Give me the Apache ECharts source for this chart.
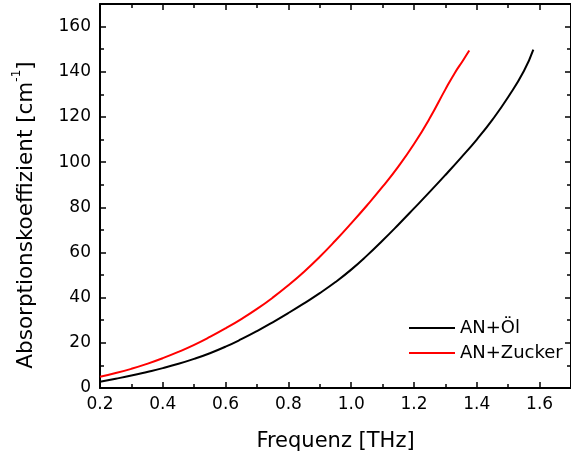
<!DOCTYPE html>
<html>
<head>
<meta charset="utf-8">
<script src="https://cdn.jsdelivr.net/npm/echarts@6/dist/echarts.min.js"></script>
<style>html,body{margin:0;padding:0;background:#fff;}#c{width:571px;height:457px;}</style>
</head>
<body>
<div id="c"></div>
<script>
var seriesNames = ['AN+Öl', 'AN+Zucker'];
var oilX = [0.2,0.25,0.3,0.35,0.4,0.45,0.5,0.55,0.6,0.65,0.7,0.75,0.8,0.85,0.9,0.95,1.0,1.05,1.1,1.15,1.2,1.25,1.3,1.35,1.4,1.45,1.5,1.55,1.58];
var oilY = [2.8,4.1,5.5,7.1,8.8,10.7,12.9,15.4,18.3,21.6,25.2,29.1,33.2,37.5,42.0,46.9,52.4,58.6,65.3,72.3,79.5,86.8,94.3,102.0,110.0,118.8,128.8,140.3,149.8];
var sugarX = [0.2,0.25,0.3,0.35,0.4,0.45,0.5,0.55,0.6,0.65,0.7,0.75,0.8,0.85,0.9,0.95,1.0,1.05,1.1,1.15,1.2,1.25,1.3,1.33,1.355,1.376];
var sugarY = [5.0,6.6,8.5,10.7,13.2,16.0,19.1,22.6,26.4,30.5,35.0,40.0,45.5,51.5,58.1,65.3,72.9,80.8,89.1,98.0,108.0,119.4,132.2,139.5,144.8,149.4];
var xTitle = 'Frequenz [THz]';
var yTitleMain = 'Absorptionskoeffizient [cm';
var yTitleSup = '-1';
var yTitleEnd = ']';

function pairs(xs, ys) { return xs.map(function (x, i) { return [x, ys[i]]; }); }

var FONT = 'DejaVu Sans';
var chart = echarts.init(document.getElementById('c'), null, {renderer: 'canvas'});
var axisLine = {show: true, onZero: false, lineStyle: {color: '#000', width: 2}};
var tick = {show: true, inside: true, length: 6, lineStyle: {color: '#000', width: 1.5}};
var minor = {show: true, splitNumber: 2, length: 4, lineStyle: {color: '#000', width: 1.5}};

chart.setOption({
  animation: false,
  backgroundColor: '#fff',
  grid: {left: 100, top: 4, width: 473, height: 384, containLabel: false},
  legend: {
    orient: 'vertical', left: 404, top: 314, icon: 'rect', itemWidth: 46, itemHeight: 2, itemGap: 7,
    textStyle: {fontFamily: FONT, fontSize: 18, color: '#000'},
    data: seriesNames
  },
  xAxis: [{
    type: 'value', min: 0.2, max: 1.7, interval: 0.2, position: 'bottom',
    name: xTitle, nameLocation: 'middle', nameGap: 43,
    nameTextStyle: {fontFamily: FONT, fontSize: 21, color: '#000'},
    axisLine: axisLine, axisTick: tick, minorTick: minor, splitLine: {show: false},
    axisLabel: {fontFamily: FONT, fontSize: 17, color: '#000', margin: 8, showMaxLabel: false,
      formatter: function (v) { return v.toFixed(1); }}
  }, {
    type: 'value', min: 0.2, max: 1.7, interval: 0.2, position: 'top',
    axisLine: axisLine, axisTick: tick, minorTick: minor, splitLine: {show: false},
    axisLabel: {show: false}
  }],
  yAxis: [{
    type: 'value', min: 0, max: 170, interval: 20, position: 'left',
    axisLine: axisLine, axisTick: tick, minorTick: minor, splitLine: {show: false},
    axisLabel: {fontFamily: FONT, fontSize: 17, color: '#000', margin: 9, showMaxLabel: false}
  }, {
    type: 'value', min: 0, max: 170, interval: 20, position: 'right',
    axisLine: axisLine, axisTick: tick, minorTick: minor, splitLine: {show: false},
    axisLabel: {show: false}
  }],
  graphic: [{
    type: 'text', x: 24, y: 215, rotation: Math.PI / 2, silent: true,
    style: {
      text: '{a|' + yTitleMain + '}{s|' + yTitleSup + '}{a|' + yTitleEnd + '}',
      align: 'center', verticalAlign: 'middle',
      rich: {
        a: {fontFamily: FONT, fontSize: 21.5, fill: '#000', verticalAlign: 'bottom', lineHeight: 26},
        s: {fontFamily: FONT, fontSize: 12, fill: '#000', verticalAlign: 'top', lineHeight: 26}
      }
    }
  }],
  series: [{
    name: seriesNames[0], type: 'line', data: pairs(oilX, oilY), smooth: 0.5,
    symbol: 'none', showSymbol: false, lineStyle: {color: '#000', width: 2}, itemStyle: {color: '#000'}
  }, {
    name: seriesNames[1], type: 'line', data: pairs(sugarX, sugarY), smooth: 0.5,
    symbol: 'none', showSymbol: false, lineStyle: {color: '#ff0000', width: 2}, itemStyle: {color: '#ff0000'}
  }]
});
</script>
</body>
</html>
